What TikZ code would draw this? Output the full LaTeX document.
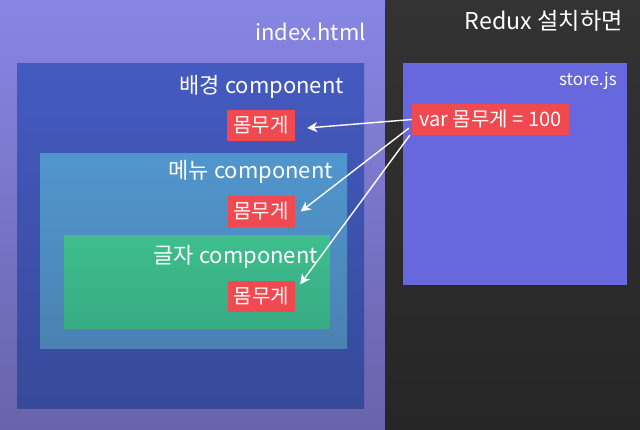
\documentclass[tikz,border=0pt]{standalone}
\usepackage{fontspec}
\setmainfont{Noto Sans CJK KR}
\usetikzlibrary{arrows.meta,calc}
\definecolor{leftbgT}{HTML}{8786E4}
\definecolor{leftbgB}{HTML}{6963AB}
\definecolor{darkT}{HTML}{333333}
\definecolor{darkB}{HTML}{262626}
\definecolor{blueT}{HTML}{445AC0}
\definecolor{blueB}{HTML}{364A99}
\definecolor{menuT}{HTML}{5196CE}
\definecolor{menuB}{HTML}{4A82B2}
\definecolor{greenT}{HTML}{3EBE8E}
\definecolor{greenB}{HTML}{38AB84}
\definecolor{storeC}{HTML}{6868DE}
\definecolor{redC}{HTML}{F04A50}
\tikzset{
  panel/.style={draw=none, inner sep=0pt, anchor=north west},
  title/.style={text=white, font=\fontsize{22}{26}\selectfont, inner sep=0pt, anchor=east},
  small/.style={text=white, font=\fontsize{17}{20}\selectfont, inner sep=0pt, anchor=east},
  tag/.style={fill=redC, text=white, font=\fontsize{20}{24}\selectfont, inner sep=0pt, minimum height=31pt},
  link/.style={draw=white, line width=1.4pt, -{Stealth[length=10pt,width=10pt,inset=3pt]}}
}
\begin{document}
\begin{tikzpicture}[x=1pt,y=-1pt]
\useasboundingbox (0,0) rectangle (640,429);
% backgrounds
\shade[top color=leftbgT, bottom color=leftbgB] (0,0) rectangle (385,429);
\shade[top color=darkT, bottom color=darkB] (385,0) rectangle (640,429);
\node[title] (index) at (366,32) {index.html};
\node[title, font=\fontsize{23.2}{27}\selectfont] (redux) at (623,21) {Redux 설치하면};
% nested boxes
\node[panel, top color=blueT, bottom color=blueB, minimum width=347pt, minimum height=345pt] (bg) at (17,63) {};
\node[title] (bgt) at (344,87) {배경 component};
\node[panel, top color=menuT, bottom color=menuB, minimum width=307pt, minimum height=195pt] (menu) at (40,153) {};
\node[title] (menut) at (333,172) {메뉴 component};
\node[panel, top color=greenT, bottom color=greenB, minimum width=266pt, minimum height=93pt] (text) at (64,235) {};
\node[title] (textt) at (318,257) {글자 component};
% store
\node[panel, fill=storeC, minimum width=224pt, minimum height=222pt] (store) at (403,63) {};
\node[small] (storet) at (617,81) {store.js};
% tags
\node[tag, minimum width=68pt] (lab1) at (261,125) {몸무게};
\node[tag, minimum width=67pt] (lab2) at (261,211.5) {몸무게};
\node[tag, minimum width=67pt] (lab3) at (261.5,296) {몸무게};
\node[tag, minimum width=157pt] (var) at (490.5,119.5) {var 몸무게 = 100};
% arrows
\draw[link] (var.west) -- ($(lab1.east)+(12,3)$);
\draw[link] ($(var.south west)+(-3,-7)$) -- ($(lab2.east)+(6,0)$);
\draw[link] ($(var.south west)+(-2,0)$) -- ($(lab3.north east)+(5,4)$);
\end{tikzpicture}
\end{document}
